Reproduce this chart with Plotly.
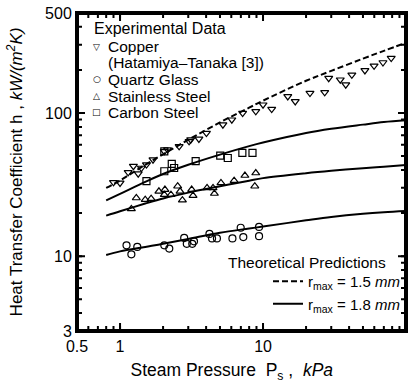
import plotly.graph_objects as go

# ---------------- data ----------------
copper_p = [0.90, 1.00, 1.14, 1.24, 1.34, 1.41, 1.53, 1.70, 2.04, 2.15, 2.59, 3.04, 3.12, 3.56, 4.02,
            5.24, 6.05, 7.20, 8.90, 10.0, 11.5, 14.9, 16.8, 21.3, 27.0, 28.8, 34.7, 37.9, 41.8,
            51.6, 59.8, 69.0, 78.8]
copper_h = [32.8, 32.5, 38.5, 42.5, 37.7, 41.3, 43.6, 47.2, 54.0, 55.5, 58.5, 63.4, 65.1, 65.9, 72.4,
            82.9, 89.8, 100, 102.7, 114.3, 106.6, 130.7, 120.6, 137.9, 139.4, 175.3, 170.9, 157.8, 185,
            198.5, 213.9, 225.5, 241.9]

quartz_p = [1.11, 1.20, 1.32, 2.04, 2.21, 2.81, 2.93, 3.20, 3.29, 4.22, 4.40, 4.76, 6.11, 6.98, 7.28, 9.38, 9.38]
quartz_h = [11.9, 10.3, 11.6, 11.9, 11.3, 13.4, 12.2, 12.2, 12.7, 14.3, 13.3, 13.3, 13.3, 15.8, 13.6, 13.8, 16.0]

stainless_p = [1.20, 1.30, 1.50, 1.65, 1.87, 2.06, 2.04, 2.27, 2.53, 2.63, 2.73, 3.17, 3.24, 4.06, 4.47,
               4.57, 5.08, 6.28, 7.47, 8.90, 8.76]
stainless_h = [21.4, 25.5, 24.8, 25.2, 28.4, 29.2, 26.9, 26.9, 30.8, 28.4, 24.6, 29.2, 26.5, 30.0, 30.0,
               27.4, 32.5, 33.7, 36.6, 38.1, 30.8]

carbon_p = [1.53, 2.04, 2.04, 2.30, 2.39, 3.38, 5.02, 5.67, 7.17, 8.44]
carbon_h = [33.4, 54.0, 39.2, 44.1, 41.3, 46.1, 50.4, 48.5, 52.6, 52.6]

theory_p = [0.8, 1, 1.5, 2, 3, 5, 8, 10, 20, 30, 50, 70, 100]
copper_r15 = [30, 33.8, 43.5, 51.5, 65, 86, 109, 122, 168, 197, 240, 272, 310]
carbon_r18 = [24.5, 27.2, 33.0, 37.5, 43.5, 51.2, 58.7, 62.2, 72.5, 77.6, 83, 86.5, 89]
stainless_r18 = [19.2, 20.6, 23.3, 25.3, 27.8, 30.8, 33.7, 35.1, 38.0, 39.5, 41.2, 42.2, 43.4]
quartz_r18 = [10.2, 10.8, 11.6, 12.2, 13.2, 14.6, 15.6, 16.1, 17.8, 18.8, 19.8, 20.3, 20.7]

x_tickvals = [0.5, 1, 10, 100]
x_ticktext = ["0.5", "1", "10", "100"]
y_tickvals = [3, 10, 100, 500]
y_ticktext = ["3", "10", "100", "500"]

exp_legend_title = "Experimental Data"
exp_names = ["Copper", "(Hatamiya\u2013Tanaka [3])", "Quartz Glass", "Stainless Steel", "Carbon Steel"]
exp_symbols = ["\u25bd", "", "\u25cb", "\u25b3", "\u25a1"]
theory_title = "Theoretical Predictions"

# plot-area frame outline, in the unit square of an overlay axis pair
frame_x = [0, 1, 1, 0, 0]
frame_y = [0, 0, 1, 1, 0]

FONT = "Liberation Sans, Arial, sans-serif"

fig = go.Figure()

line_style = dict(color="black", width=2)
fig.add_trace(go.Scatter(x=theory_p, y=copper_r15, mode="lines", line=dict(color="black", width=2, dash="6px,3px"),
                         line_shape="spline", name="r<sub>max</sub> = 1.5 <i>mm</i>", legend="legend2"))
fig.add_trace(go.Scatter(x=theory_p, y=carbon_r18, mode="lines", line=line_style, line_shape="spline",
                         name="r<sub>max</sub> = 1.8 <i>mm</i>", legend="legend2"))
fig.add_trace(go.Scatter(x=theory_p, y=stainless_r18, mode="lines", line=line_style, line_shape="spline",
                         showlegend=False))
fig.add_trace(go.Scatter(x=theory_p, y=quartz_r18, mode="lines", line=line_style, line_shape="spline",
                         showlegend=False))

mk = dict(color="black", size=7, line=dict(color="black", width=1.2))
fig.add_trace(go.Scatter(x=copper_p, y=copper_h, mode="markers", showlegend=False,
                         marker=dict(symbol="triangle-down-open", **mk)))
fig.add_trace(go.Scatter(x=quartz_p, y=quartz_h, mode="markers", showlegend=False,
                         marker=dict(symbol="circle-open", **mk)))
fig.add_trace(go.Scatter(x=stainless_p, y=stainless_h, mode="markers", showlegend=False,
                         marker=dict(symbol="triangle-up-open", **mk)))
fig.add_trace(go.Scatter(x=carbon_p, y=carbon_h, mode="markers", showlegend=False,
                         marker=dict(symbol="square-open", **mk)))

# frame drawn on a hidden overlay axis pair
fig.add_trace(go.Scatter(x=frame_x, y=frame_y, xaxis="x2", yaxis="y2", mode="lines",
                         line=dict(color="black", width=4), showlegend=False, hoverinfo="skip"))

L, R, T, B = 77, 9, 13, 52
W, H = 415, 383
pw, ph = W - L - R, H - T - B


def px(xp):
    return (xp - L) / pw


def py(yp):
    return (H - B - yp) / ph


ann = []
ann.append(dict(text=exp_legend_title, x=px(91.5), y=py(29), xanchor="left", yanchor="middle",
                font=dict(size=16)))
rows_y = [47, 62.5, 79.5, 96, 112.5]
for name, sym, yy in zip(exp_names, exp_symbols, rows_y):
    ann.append(dict(text=name, x=px(105.5), y=py(yy), xanchor="left", yanchor="middle", font=dict(size=15.5)))
    if sym:
        ann.append(dict(text=sym, x=px(96.5), y=py(yy - 0.5), xanchor="center", yanchor="middle",
                        font=dict(size=9, family="DejaVu Sans")))
ann.append(dict(text=theory_title, x=px(226), y=py(262), xanchor="left", yanchor="middle", font=dict(size=15.5)))
for a in ann:
    a.update(xref="paper", yref="paper", showarrow=False)

axis_common = dict(type="log", automargin=False, showline=True, linewidth=2, linecolor="#000000",
                   mirror="allticks", ticks="inside", ticklen=8, tickwidth=2, tickcolor="#000000",
                   showgrid=False, zeroline=False,
                   minor=dict(ticks="inside", ticklen=5, tickwidth=1.5, tickcolor="#000000", dtick="D1",
                              showgrid=False),
                   tickfont=dict(size=16, color="black"))

fig.update_layout(
    width=W, height=H, margin=dict(l=L, r=R, t=T, b=B),
    paper_bgcolor="white", plot_bgcolor="white",
    font=dict(family=FONT, color="black"),
    xaxis=dict(range=[-0.30103, 2], tickmode="array", tickvals=x_tickvals, ticktext=x_ticktext,
               title=dict(text="Steam Pressure  P<sub>s</sub> ,  <i>kPa</i>&nbsp;&nbsp;&nbsp;&nbsp;",
                          font=dict(size=17.5), standoff=25),
               **axis_common),
    yaxis=dict(range=[0.4771, 2.69897], tickmode="array", tickvals=y_tickvals, ticktext=y_ticktext,
               title=dict(text="Heat Transfer Coefficient h , <i>kW/(m<sup>2</sup>K)</i>", font=dict(size=17),
                          standoff=18),
               **axis_common),
    xaxis2=dict(overlaying="x", range=[0, 1], visible=False, fixedrange=True),
    yaxis2=dict(overlaying="y", range=[0, 1], visible=False, fixedrange=True),
    legend2=dict(x=px(405), y=py(265), xanchor="right", yanchor="top", bgcolor="rgba(0,0,0,0)",
                 font=dict(size=15, color="black"), borderwidth=0),
    annotations=ann,
    showlegend=True,
)

post = """
document.body.style.margin='0px';
document.querySelectorAll('path').forEach(function(p){
  p.style.shapeRendering='geometricPrecision';
  p.style.vectorEffect='none';
});
"""

fig.write_html("out.html", config={"displayModeBar": False}, post_script=post)
